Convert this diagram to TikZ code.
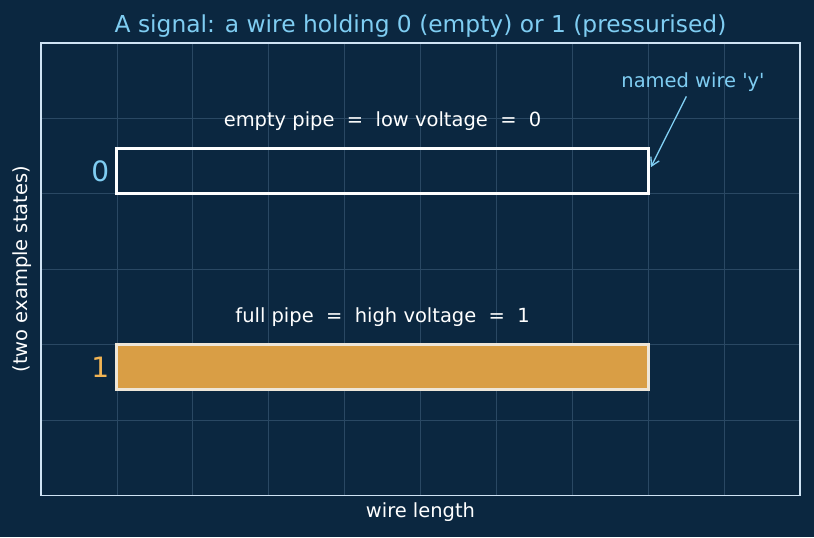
\documentclass[tikz,border=0pt]{standalone}
\usepackage{fontspec}
\setmainfont{DejaVu Sans}
\usetikzlibrary{arrows.meta}
\definecolor{bgnavy}{HTML}{0B2740}
\definecolor{gridline}{HTML}{2A4863}
\definecolor{framelight}{HTML}{CFE3F4}
\definecolor{skyblue}{HTML}{7FCDF2}
\definecolor{pipeorange}{HTML}{D99E45}
\definecolor{pipeedge}{HTML}{EEE6D8}
\definecolor{digitorange}{HTML}{F2B454}

\begin{document}
\begin{tikzpicture}[x=56.9pt,y=56.5pt,
  pipe/.style={draw=white, line width=2.3pt, inner sep=0pt, outer sep=0pt,
    minimum width=398.3pt, minimum height=33.9pt},
  bit/.style={font=\fontsize{21}{24}\selectfont},
  note/.style={text=white, font=\fontsize{14.6}{17}\selectfont}]
 \fill[bgnavy] (-0.540,-0.558) rectangle (10.184,6.571);
 \useasboundingbox (-0.540,-0.558) rectangle (10.184,6.571);

 \foreach \gx in {1,...,9} \draw[gridline, line width=0.5pt] (\gx,0) -- (\gx,6);
 \foreach \gy in {1,...,5} \draw[gridline, line width=0.5pt] (0,\gy) -- (10,\gy);
 \draw[framelight, line width=1pt] (0,0) rectangle (10,6);

 \node[text=skyblue, font=\fontsize{17.5}{20}\selectfont] (title) at (5,6.23) {A signal: a wire holding 0 (empty) or 1 (pressurised)};

 \node[pipe] (wire0) at (4.5,4.3) {};
 \node[pipe, fill=pipeorange, draw=pipeedge] (wire1) at (4.5,1.7) {};

 \node[bit, text=skyblue] (bit0) at (0.78,4.3) {0};
 \node[bit, text=digitorange] (bit1) at (0.78,1.7) {1};

 \node[note] (low) at (4.5,4.96) {empty pipe\ \ =\ \ low voltage\ \ =\ \ 0};
 \node[note] (high) at (4.5,2.36) {full pipe\ \ =\ \ high voltage\ \ =\ \ 1};

 \node[note, text=skyblue] (wirename) at (8.59,5.48) {named wire \textquotesingle y\textquotesingle};
 \draw[-{Straight Barb[length=6pt,width=7pt]}, skyblue, line width=1pt] ([xshift=-5pt]wirename.south) -- ([xshift=2pt,yshift=3pt]wire0.east);

 \node[note] (xlabel) at (5,-0.23) {wire length};
 \node[note, rotate=90] (ylabel) at (-0.25,3) {(two example states)};
\end{tikzpicture}
\end{document}
